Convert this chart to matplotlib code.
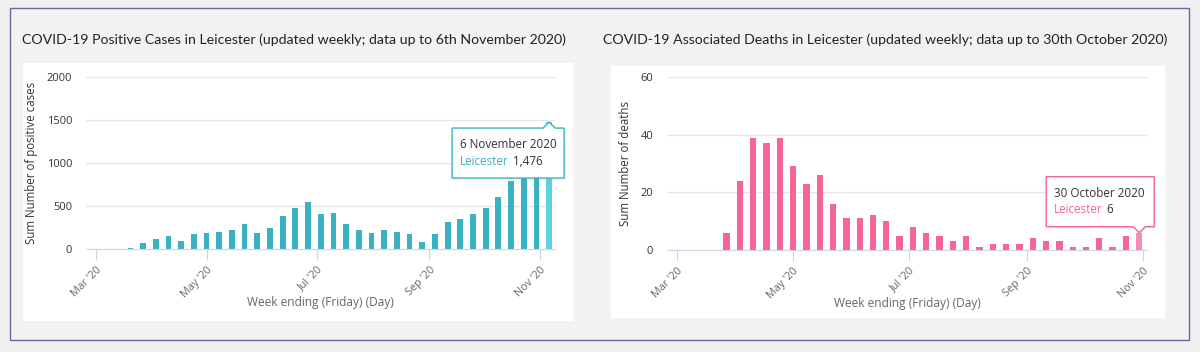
import pandas as pd
import matplotlib.pyplot as plt
import matplotlib.dates as mdates
from matplotlib.patches import Rectangle, Polygon

W, H = 1200, 352

# weekly data (week ending Friday)
case_weeks = pd.date_range('2020-03-20', '2020-11-06', freq='7D')
cases = [12, 70, 116, 151, 97, 170, 182, 202, 221, 287, 190, 240, 380, 481,
         543, 411, 419, 287, 221, 182, 221, 202, 170, 85, 170, 314, 349, 403,
         473, 600, 787, 1010, 1230, 1476]

death_weeks = pd.date_range('2020-03-27', '2020-10-30', freq='7D')
deaths = [6, 24, 39, 37, 39, 29, 23, 26, 16, 11, 11, 12, 10, 5, 8, 6, 5, 3, 5,
          1, 2, 2, 2, 4, 3, 3, 1, 1, 4, 1, 5, 6]

case_ticks = [0, 500, 1000, 1500, 2000]
death_ticks = [0, 20, 40, 60]

titles = ['COVID-19 Positive Cases in Leicester (updated weekly; data up to 6th November 2020)',
          'COVID-19 Associated Deaths in Leicester (updated weekly; data up to 30th October 2020)']

plt.rcParams['font.family'] = ['Open Sans', 'DejaVu Sans']

fig = plt.figure(figsize=(12, 3.52), dpi=100, facecolor='#f0f0f0')


def rect_frac(x0, y0, x1, y1):
    # pixel box (top-left origin) -> figure fraction [l, b, w, h]
    return [x0 / W, 1 - y1 / H, (x1 - x0) / W, (y1 - y0) / H]


def pts(xy):
    return [(x / W, 1 - y / H) for x, y in xy]


# outer frame
l, b, w, h = rect_frac(10, 8, 1189, 340)
fig.add_artist(Rectangle((l, b), w, h, transform=fig.transFigure,
                         facecolor='#f2f2f2', edgecolor='#6e66a3', lw=1, zorder=0))
# white panels
for box in [(23, 63, 573, 321), (611, 66, 1165, 318)]:
    l, b, w, h = rect_frac(*box)
    fig.add_artist(Rectangle((l, b), w, h, transform=fig.transFigure,
                             facecolor='white', edgecolor='none', zorder=0))

fig.text(22 / W, 1 - 40 / H, titles[0], fontsize=10.2, family=['Lato', 'DejaVu Sans'],
         color='#222222', va='center')
fig.text(603 / W, 1 - 40 / H, titles[1], fontsize=10.2, family=['Lato', 'DejaVu Sans'],
         color='#222222', va='center')


def setup(ax, ticks, ylabel, xlim, ylab_x):
    ax.set_facecolor('none')
    ax.set_ylim(ticks[0], ticks[-1])
    ax.set_yticks(ticks)
    ax.set_xlim(mdates.date2num(pd.Timestamp(xlim[0])), mdates.date2num(pd.Timestamp(xlim[1])))
    ax.grid(axis='y', color='#e6e6e6', lw=1)
    ax.set_axisbelow(True)
    for s in ['top', 'right', 'left']:
        ax.spines[s].set_visible(False)
    ax.spines['bottom'].set_color('#ccd6eb')
    ax.tick_params(axis='y', length=0, labelsize=8, labelcolor='#333333', pad=10)
    ax.tick_params(axis='x', length=8, color='#ccd6eb', labelsize=7.8, labelcolor='#666666', pad=3)
    ax.xaxis.set_major_locator(mdates.MonthLocator(bymonth=[3, 5, 7, 9, 11]))
    ax.xaxis.set_major_formatter(mdates.DateFormatter("%b '%y"))
    for lab in ax.get_xticklabels():
        lab.set_rotation(45)
        lab.set_ha('right')
        lab.set_rotation_mode('anchor')
    ax.set_ylabel(ylabel, fontsize=8.3, color='#333333')
    ax.yaxis.set_label_coords(ylab_x, 0.5)
    ax.text(0.5, -0.31, 'Week ending (Friday) (Day)', transform=ax.transAxes,
            ha='center', va='center', fontsize=8.6, color='#666666')


ax1 = fig.add_axes(rect_frac(86, 77, 555, 249))
setup(ax1, case_ticks, 'Sum Number of positive cases',
      ('2020-02-24 12:00', '2020-11-09 06:00'), -0.102)
c1 = ['#3bb2c2'] * (len(cases) - 1) + ['#5fd0df']
ax1.bar(case_weeks, cases, width=3.2, color=c1, zorder=2)

ax2 = fig.add_axes(rect_frac(667, 77, 1147, 250))
setup(ax2, death_ticks, 'Sum Number of deaths',
      ('2020-02-24 16:00', '2020-11-03 02:00'), -0.073)
c2 = ['#f5649b'] * (len(deaths) - 1) + ['#f98ab8']
ax2.bar(death_weeks, deaths, width=3.3, color=c2, zorder=2)

renderer = fig.canvas.get_renderer()


def value_text(v):
    return f'{v:,}'


def tooltip(ax, date, value, head, label, color, above):
    px, py = ax.transData.transform((mdates.date2num(date), value))
    X, Y = px, H - py
    if above:
        L, R, T, B = X - 97, X + 15, Y + 6, Y + 56
        verts = [(L, T), (X - 6, T), (X, Y), (X + 6, T), (R, T), (R, B), (L, B)]
        y1, y2 = T + 16, T + 33
    else:
        L, R, T, B = X - 93, X + 15, Y - 56, Y - 6
        verts = [(L, T), (R, T), (R, B), (X + 6, B), (X, Y), (X - 6, B), (L, B)]
        y1, y2 = T + 17, T + 33
    shadow = [(x + 1.5, y + 1.5) for x, y in verts]
    fig.add_artist(Polygon(pts(shadow), closed=True, transform=fig.transFigure,
                           facecolor='#000000', alpha=0.06, edgecolor='none', zorder=5))
    fig.add_artist(Polygon(pts(verts), closed=True, transform=fig.transFigure,
                           facecolor='white', edgecolor=color, lw=1, zorder=6))
    fig.text((L + 8) / W, 1 - y1 / H, head, fontsize=8.4, color='#333333',
             va='center', zorder=7)
    t = fig.text((L + 8) / W, 1 - y2 / H, label, fontsize=8.4, color=color,
                 va='center', zorder=7)
    tw = t.get_window_extent(renderer).width
    fig.text((L + 8 + tw + 4) / W, 1 - y2 / H, value_text(value), fontsize=8.4,
             color='#333333', va='center', zorder=7)


tooltip(ax1, case_weeks[-1], cases[-1], '6 November 2020', 'Leicester', '#3bb2c2', True)
tooltip(ax2, death_weeks[-1], deaths[-1], '30 October 2020', 'Leicester', '#f5649b', False)

fig.savefig('out.png', dpi=100, facecolor=fig.get_facecolor())
